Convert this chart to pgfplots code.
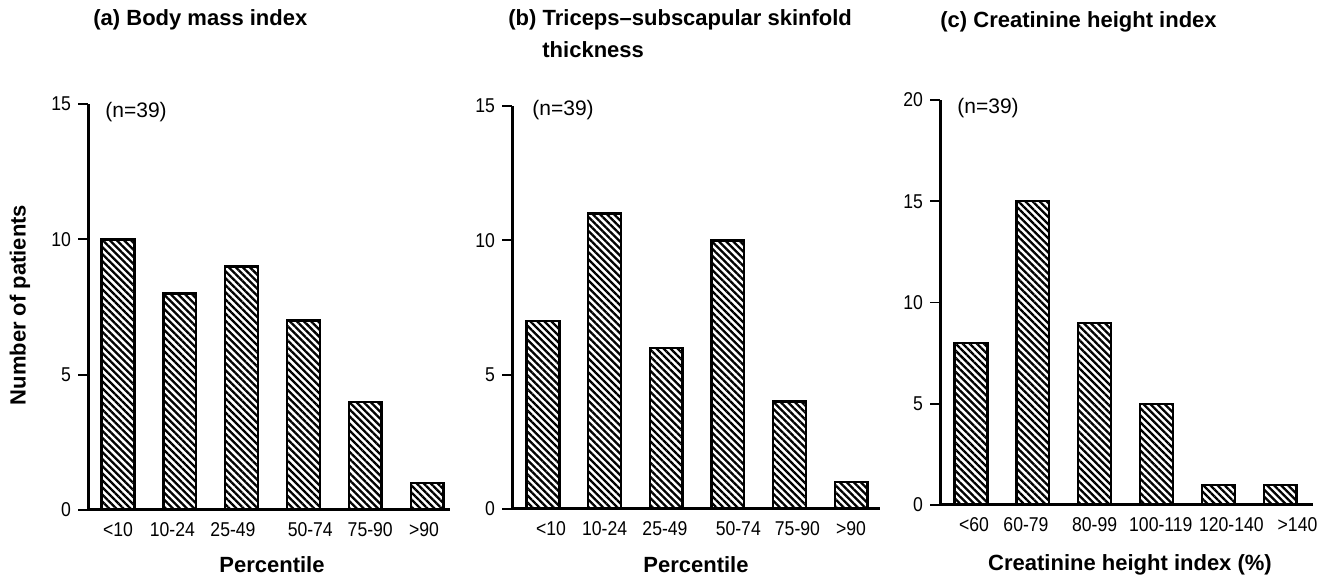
\documentclass[border=0pt]{standalone}
\usepackage{pgfplots}
\usepackage{pgfplotstable}
\pgfplotsset{compat=1.18}
\usepackage{fontspec}
\setmainfont{Liberation Sans}
\newfontfamily\tickfam[FakeStretch=0.88]{Liberation Sans}
\usetikzlibrary{patterns.meta}

\pgfplotstableread{
x y
0 10
1 8
2 9
3 7
4 4
5 1
}\dataA
\pgfplotstableread{
x y
0 7
1 11
2 6
3 10
4 4
5 1
}\dataB
\pgfplotstableread{
x y
0 8
1 15
2 9
3 5
4 1
5 1
}\dataC

\pgfplotsset{
  hist/.style={
    scale only axis,
    anchor=south west,
    axis x line=bottom, axis y line=left,
    axis line style={-, line width=1.5pt},
    ymin=0,
    xtick style={draw=none},
    ytick style={line width=0.9pt, black},
    tick align=outside,
    major tick length=5pt,
    ybar, bar width=0.53,
    tick label style={font=\tickfam\fontsize{10}{11}\selectfont},
    xticklabel style={yshift=2.5pt},
    /pgf/number format/assume math mode=true,
    clip=false,
  },
  hbar/.style={draw=black, line width=1.2pt,
    pattern={Lines[angle=-45,distance=2.5pt,line width=1.15pt]}},
}
\newcommand{\lbl}{\fontsize{11}{12}\selectfont\bfseries}
\newcommand{\nfont}{\fontsize{10.5}{11}\selectfont}

\begin{document}
\begin{tikzpicture}
\useasboundingbox (0,0) rectangle (667.5pt,288pt);

% (a)
\begin{axis}[hist, at={(44pt,33pt)}, width=181pt, height=203pt,
  xmin=-0.485, xmax=5.37, ymax=15, ytick={0,5,10,15},
  xtick={0,0.88,1.86,3.11,4.08,4.95},
  xticklabels={\textless10,10-24,25-49,50-74,75-90,\textgreater90}]
\addplot[hbar] table[x=x,y=y]{\dataA};
\end{axis}

% (b)
\begin{axis}[hist, at={(256pt,33.5pt)}, width=184pt, height=201.5pt,
  xmin=-0.503, xmax=5.47, ymax=15, ytick={0,5,10,15},
  xtick={0.13,1.0,1.98,3.17,4.13,5.0},
  xticklabels={\textless10,10-24,25-49,50-74,75-90,\textgreater90}]
\addplot[hbar] table[x=x,y=y]{\dataB};
\end{axis}

% (c)
\begin{axis}[hist, at={(470pt,35.5pt)}, width=186.5pt, height=202.5pt,
  xmin=-0.5, xmax=5.53, ymax=20, ytick={0,5,10,15,20},
  xtick={0.05,0.89,2.0,3.07,4.21,5.28},
  xticklabels={\textless60,60-79,80-99,100-119,120-140,\textgreater140}]
\addplot[hbar] table[x=x,y=y]{\dataC};
\end{axis}

% titles
\node[anchor=west, font=\lbl, inner sep=0pt] at (46.5pt,278pt) {(a) Body mass index};
\node[anchor=west, font=\lbl, inner sep=0pt] at (254pt,278pt) {(b) Triceps--subscapular skinfold};
\node[anchor=west, font=\lbl, inner sep=0pt] at (271pt,263pt) {thickness};
\node[anchor=west, font=\lbl, inner sep=0pt] at (470pt,277pt) {(c) Creatinine height index};

% n labels
\node[anchor=west, font=\nfont, inner sep=0pt] at (52.5pt,232pt) {(n=39)};
\node[anchor=west, font=\nfont, inner sep=0pt] at (266pt,233pt) {(n=39)};
\node[anchor=west, font=\nfont, inner sep=0pt] at (478.5pt,234pt) {(n=39)};

% axis labels
\node[rotate=90, font=\lbl, inner sep=0pt] at (10pt,135.5pt) {Number of patients};
\node[font=\lbl, inner sep=0pt] at (136pt,5.5pt) {Percentile};
\node[font=\lbl, inner sep=0pt] at (348pt,5.5pt) {Percentile};
\node[font=\lbl, inner sep=0pt] at (565pt,5.5pt) {Creatinine height index (\%)};
\end{tikzpicture}
\end{document}
